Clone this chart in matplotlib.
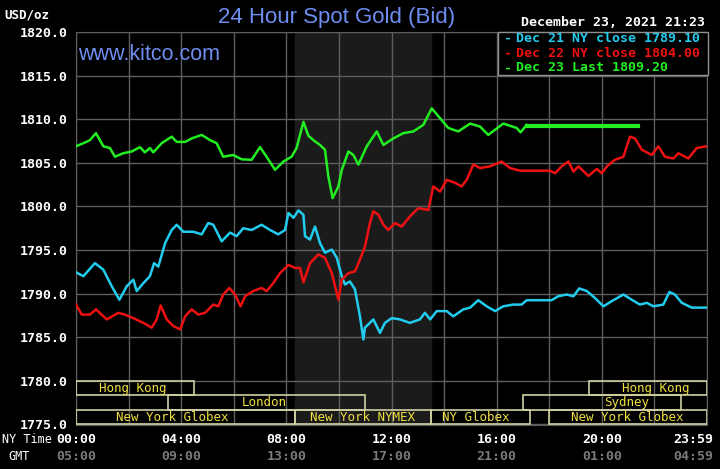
import matplotlib
matplotlib.use("Agg")
import matplotlib.pyplot as plt
from matplotlib.patches import Rectangle

# ---- data (NY hours, price) ----
dec21_t = [0.00, 0.28, 0.72, 1.04, 1.36, 1.65, 1.93, 2.18, 2.31, 2.56, 2.81, 2.97, 3.13, 3.39,
           3.64, 3.83, 4.08, 4.46, 4.78, 5.03, 5.22, 5.54, 5.86, 6.11, 6.36, 6.68, 7.06, 7.38,
           7.69, 7.95, 8.08, 8.27, 8.46, 8.65, 8.71, 8.90, 9.09, 9.28, 9.47, 9.73, 9.92, 10.11,
           10.23, 10.42, 10.61, 10.80, 10.93, 10.99, 11.31, 11.56, 11.75, 12.01, 12.32, 12.70,
           13.08, 13.27, 13.47, 13.72, 14.10, 14.35, 14.73, 14.99, 15.30, 15.62, 15.94, 16.25,
           16.63, 16.95, 17.14, 18.09, 18.34, 18.66, 18.92, 19.14, 19.43, 19.74, 20.06, 20.38,
           20.82, 21.14, 21.45, 21.71, 21.96, 22.34, 22.57, 22.78, 23.04, 23.42, 23.98]
dec21_p = [1792.45, 1792.0, 1793.5, 1792.75, 1790.85, 1789.3, 1790.85, 1791.6, 1790.3, 1791.2,
           1792.0, 1793.5, 1793.1, 1795.8, 1797.3, 1797.9, 1797.1, 1797.1, 1796.8, 1798.1,
           1797.9, 1796.0, 1797.0, 1796.6, 1797.5, 1797.3, 1797.9, 1797.3, 1796.8, 1797.3,
           1799.25, 1798.7, 1799.55, 1799.05, 1796.6, 1796.2, 1797.7, 1795.8, 1794.7, 1795.05,
           1794.1, 1792.0, 1791.05, 1791.4, 1790.5, 1787.4, 1784.75, 1786.1, 1787.05, 1785.5,
           1786.65, 1787.2, 1787.05, 1786.65, 1787.05, 1787.8, 1787.05, 1788.0, 1788.0, 1787.4,
           1788.2, 1788.4, 1789.25, 1788.55, 1788.0, 1788.55, 1788.75, 1788.75, 1789.25, 1789.25,
           1789.7, 1789.9, 1789.7, 1790.6, 1790.3, 1789.5, 1788.55, 1789.15, 1789.9, 1789.3,
           1788.75, 1788.95, 1788.55, 1788.75, 1790.2, 1789.9, 1788.95, 1788.4, 1788.4]

dec22_t = [0.00, 0.22, 0.53, 0.76, 1.17, 1.61, 1.86, 2.18, 2.56, 2.88, 3.07, 3.22, 3.45, 3.70,
           3.96, 4.15, 4.40, 4.65, 4.91, 5.22, 5.41, 5.60, 5.83, 6.05, 6.26, 6.43, 6.74, 7.06,
           7.25, 7.50, 7.76, 8.08, 8.33, 8.52, 8.65, 8.90, 9.22, 9.47, 9.73, 9.98, 10.11, 10.36,
           10.61, 10.80, 10.99, 11.18, 11.31, 11.50, 11.69, 11.88, 12.13, 12.39, 12.70, 13.02,
           13.40, 13.59, 13.85, 14.10, 14.42, 14.67, 14.86, 15.11, 15.37, 15.75, 16.19, 16.51,
           16.89, 18.03, 18.22, 18.47, 18.73, 18.92, 19.11, 19.49, 19.81, 20.00, 20.19, 20.50,
           20.82, 21.07, 21.26, 21.52, 21.90, 22.15, 22.40, 22.72, 22.91, 23.29, 23.61, 23.98]
dec22_p = [1788.75, 1787.6, 1787.6, 1788.2, 1787.05, 1787.8, 1787.6, 1787.2, 1786.65, 1786.1,
           1787.05, 1788.65, 1787.05, 1786.3, 1785.9, 1787.4, 1788.2, 1787.6, 1787.8, 1788.75,
           1788.55, 1789.9, 1790.65, 1789.9, 1788.55, 1789.7, 1790.3, 1790.65, 1790.3, 1791.2,
           1792.35, 1793.3, 1792.95, 1792.95, 1791.3, 1793.5, 1794.5, 1794.1, 1792.35, 1789.3,
           1791.6, 1792.35, 1792.55, 1793.9, 1795.4, 1798.1, 1799.45, 1799.05, 1797.9, 1797.3,
           1798.1, 1797.7, 1798.85, 1799.8, 1799.6, 1802.3, 1801.7, 1803.05, 1802.7, 1802.3,
           1803.05, 1804.8, 1804.4, 1804.6, 1805.15, 1804.4, 1804.1, 1804.1, 1803.8, 1804.6,
           1805.15, 1804.0, 1804.6, 1803.5, 1804.3, 1803.8, 1804.6, 1805.35, 1805.7, 1808.0,
           1807.8, 1806.5, 1805.9, 1806.9, 1805.7, 1805.5, 1806.1, 1805.5, 1806.7, 1806.9]

dec23_t = [0.00, 0.28, 0.53, 0.76, 1.04, 1.29, 1.48, 1.80, 2.12, 2.43, 2.62, 2.81, 2.94, 3.26,
           3.64, 3.83, 4.15, 4.40, 4.78, 5.10, 5.35, 5.60, 5.98, 6.30, 6.68, 7.00, 7.25, 7.57,
           7.89, 8.20, 8.39, 8.65, 8.84, 9.03, 9.28, 9.47, 9.60, 9.76, 9.98, 10.11, 10.36, 10.55,
           10.74, 11.06, 11.44, 11.69, 12.07, 12.45, 12.83, 13.21, 13.53, 13.85, 14.16, 14.54,
           14.99, 15.37, 15.68, 16.25, 16.76, 16.91, 17.14]
dec23_p = [1806.9, 1807.25, 1807.6, 1808.4, 1806.9, 1806.7, 1805.7, 1806.1, 1806.3, 1806.8,
           1806.2, 1806.7, 1806.2, 1807.25, 1808.0, 1807.4, 1807.4, 1807.8, 1808.2, 1807.6,
           1807.25, 1805.7, 1805.9, 1805.4, 1805.35, 1806.8, 1805.7, 1804.2, 1805.15, 1805.7,
           1806.7, 1809.7, 1808.1, 1807.6, 1807.05, 1806.5, 1803.4, 1800.95, 1802.3, 1804.2,
           1806.3, 1805.9, 1804.8, 1806.9, 1808.6, 1807.05, 1807.8, 1808.4, 1808.6, 1809.35,
           1811.25, 1810.1, 1809.0, 1808.6, 1809.5, 1809.15, 1808.2, 1809.5, 1809.0, 1808.5,
           1809.35]
last_price = 1809.20
last_time = 21.38

# trading sessions: (row, start, end, label, label centre)
sessions = [
    (0, 0.0, 4.5, "Hong Kong", 2.15),
    (0, 19.5, 24.0, "Hong Kong", 22.05),
    (1, 3.5, 11.0, "London", 7.15),
    (1, 17.0, 23.0, "Sydney", 20.95),
    (2, 0.0, 8.33, "New York Globex", 3.65),
    (2, 8.33, 13.5, "New York NYMEX", 10.9),
    (2, 13.5, 17.25, "NY Globex", 15.2),
    (2, 18.0, 24.0, "New York Globex", 20.95),
]
nymex_open, nymex_close = 8.33, 13.5

ny_ticks = [0, 4, 8, 12, 16, 20, 23.47]
ny_labels = ["00:00", "04:00", "08:00", "12:00", "16:00", "20:00", "23:59"]
gmt_labels = ["05:00", "09:00", "13:00", "17:00", "21:00", "01:00", "04:59"]

legend_rows = [("Dec 21 NY close 1789.10", "#22ccee"),
               ("Dec 22 NY close 1804.00", "#ee1111"),
               ("Dec 23 Last 1809.20", "#22ee22")]

mono = "DejaVu Sans Mono"
grid_c = "#5e5e5e"

fig = plt.figure(figsize=(7.2, 4.69), dpi=100, facecolor="black")
ax = fig.add_axes([76 / 720, 1 - 424.5 / 469, 631 / 720, (424.5 - 32) / 469])
ax.set_facecolor("black")
ax.set_xlim(0, 24)
ax.set_ylim(1775, 1820)

ax.axvspan(nymex_open, nymex_close, color="#1b1b1b", zorder=0)
for gx in range(0, 25, 2):
    ax.axvline(gx, color=grid_c, lw=1, zorder=1)
for gy in range(1775, 1821, 5):
    ax.axhline(gy, color=grid_c, lw=1, zorder=1)
for s in ax.spines.values():
    s.set_color(grid_c)

ax.set_yticks(range(1775, 1821, 5))
ax.set_yticklabels(["%.1f" % v for v in range(1775, 1821, 5)])
ax.tick_params(axis="y", length=0, pad=6, colors="white", labelsize=9.5)
for lab in ax.get_yticklabels():
    lab.set_family(mono)
    lab.set_weight("bold")
ax.set_xticks([])

ax.plot(dec21_t, dec21_p, color="#22ccee", lw=1.8, zorder=3)
ax.plot(dec22_t, dec22_p, color="#ee1111", lw=1.8, zorder=3)
ax.plot(dec23_t, dec23_p, color="#22ee22", lw=1.8, zorder=3)
ax.plot([dec23_t[-1], last_time], [last_price, last_price], color="#22ee22", lw=3, zorder=3)

# session boxes
row_h = 5 / 3.0
for row, t0, t1, name, cx in sessions:
    y0 = 1780 - (row + 1) * row_h
    ax.add_patch(Rectangle((t0, y0), t1 - t0, row_h, fill=False,
                           edgecolor="#d0d0a0", lw=1.2, zorder=4))
    ax.text(cx, y0 + row_h / 2, name, color="#f0e040", family=mono, fontsize=9,
            ha="center", va="center", zorder=5)

# legend box
leg = Rectangle((498 / 720, 1 - 75 / 469), 210 / 720, 43 / 469, transform=fig.transFigure,
                facecolor="black", edgecolor="#909090", lw=1, zorder=10)
fig.patches.append(leg)
for i, (txt, col) in enumerate(legend_rows):
    yy = 1 - (38.5 + i * 14.7) / 469
    fig.text(504 / 720, yy, "-", color=col, family=mono, weight="bold", fontsize=9.5,
             va="center", zorder=11)
    fig.text(516 / 720, yy, txt, color=col, family=mono, weight="bold", fontsize=9.5,
             va="center", zorder=11)

# titles
fig.text(337 / 720, 1 - 17 / 469, "24 Hour Spot Gold (Bid)", color="#6f8ef2",
         family="Liberation Sans", fontsize=16, ha="center", va="center")
fig.text(78 / 720, 1 - 55 / 469, "www.kitco.com", color="#6f8ef2",
         family="Liberation Sans", fontsize=15.5, ha="left", va="center", zorder=6)
fig.text(4 / 720, 1 - 15 / 469, "USD/oz", color="white", family=mono, weight="bold",
         fontsize=9, ha="left", va="center")
fig.text(705 / 720, 1 - 23 / 469, "December 23, 2021 21:23", color="white", family=mono,
         weight="bold", fontsize=9.5, ha="right", va="center")

# time axis labels
fig.text(2 / 720, 1 - 439 / 469, "NY Time", color="white", family=mono, fontsize=8.5,
         ha="left", va="center")
fig.text(8 / 720, 1 - 456 / 469, "GMT", color="white", family=mono, fontsize=8.5,
         ha="left", va="center")
for t, ny, gmt in zip(ny_ticks, ny_labels, gmt_labels):
    xf = (76 + t * 631 / 24) / 720
    fig.text(xf, 1 - 439 / 469, ny, color="white", family=mono, weight="bold",
             fontsize=9.5, ha="center", va="center")
    fig.text(xf, 1 - 456 / 469, gmt, color="#7a7a7a", family=mono, weight="bold",
             fontsize=9.5, ha="center", va="center")

fig.savefig("out.png", dpi=100, facecolor="black")
